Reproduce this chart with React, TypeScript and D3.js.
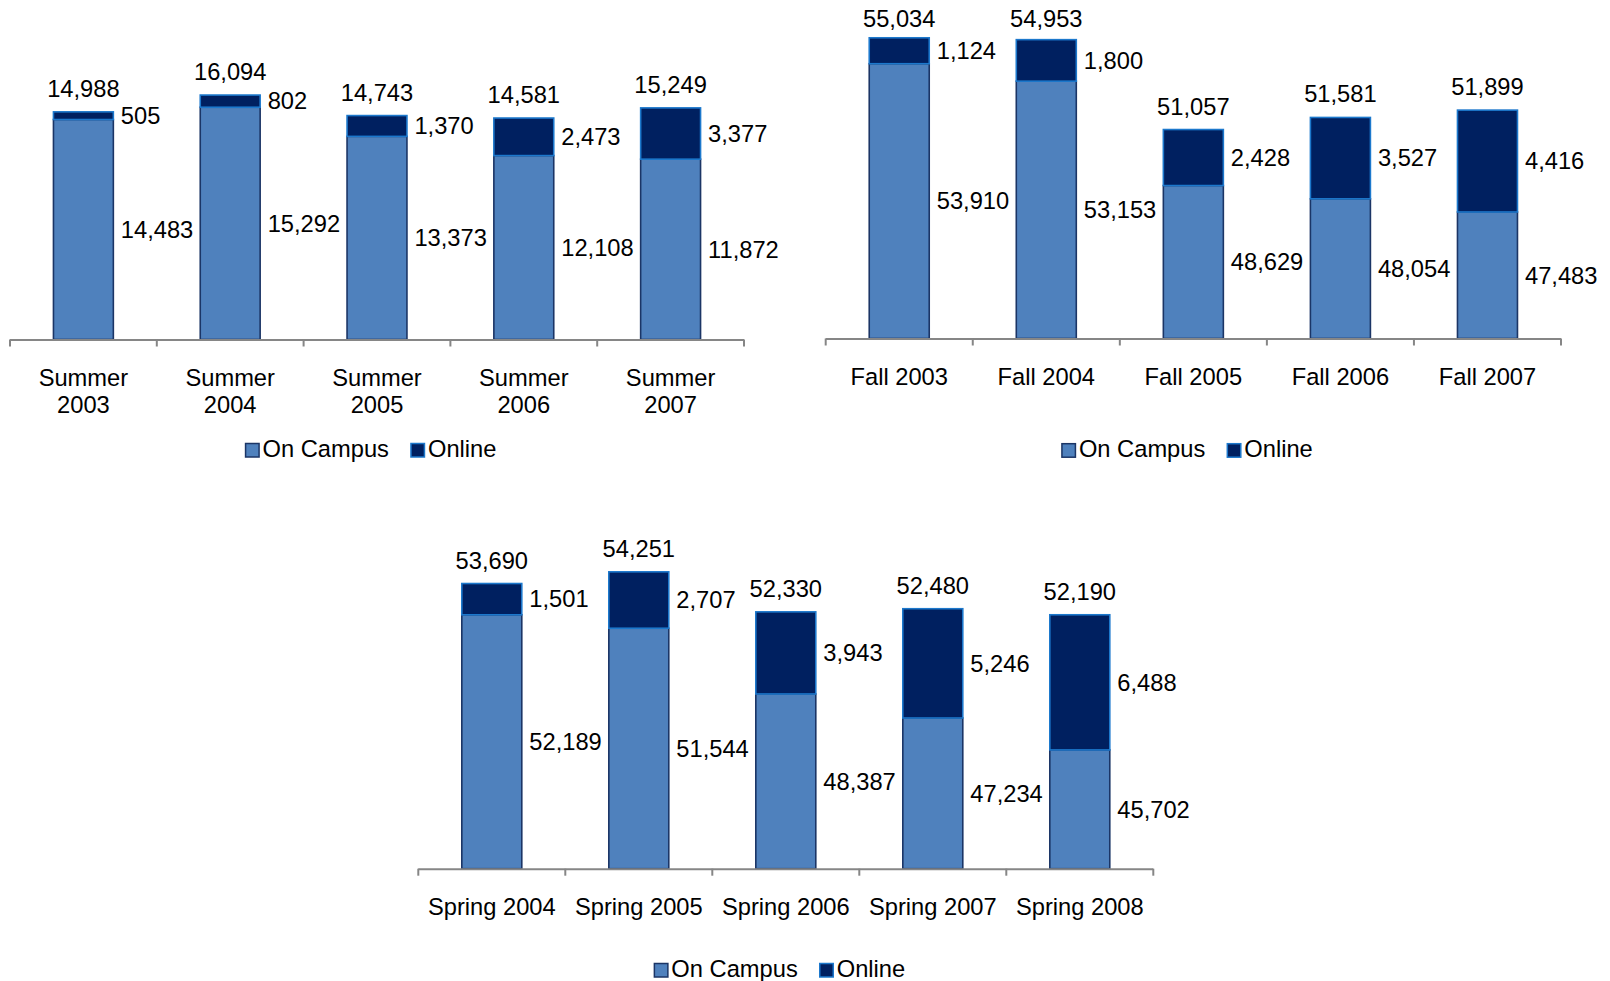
import React from "react";
import * as d3 from "d3";

// ---------- DATA ----------
const summerCategories = ["Summer 2003", "Summer 2004", "Summer 2005", "Summer 2006", "Summer 2007"];
const summerOnCampus = [14483, 15292, 13373, 12108, 11872];
const summerOnline = [505, 802, 1370, 2473, 3377];
const summerTotals = [14988, 16094, 14743, 14581, 15249];

const fallCategories = ["Fall 2003", "Fall 2004", "Fall 2005", "Fall 2006", "Fall 2007"];
const fallOnCampus = [53910, 53153, 48629, 48054, 47483];
const fallOnline = [1124, 1800, 2428, 3527, 4416];
const fallTotals = [55034, 54953, 51057, 51581, 51899];

const springCategories = ["Spring 2004", "Spring 2005", "Spring 2006", "Spring 2007", "Spring 2008"];
const springOnCampus = [52189, 51544, 48387, 47234, 45702];
const springOnline = [1501, 2707, 3943, 5246, 6488];
const springTotals = [53690, 54251, 52330, 52480, 52190];

const summerDomain = [0, 18000];
const fallDomain = [42000, 56000];
const springDomain = [40000, 56000];

const seriesNames = ["On Campus", "Online"];

// ---------- STYLE ----------
const FONT = "'Liberation Sans', Arial, sans-serif";
const FS = 23.7;
const campusFill = "#4F81BD";
const campusStroke = "#1B3566";
const onlineFill = "#002060";
const onlineStroke = "#1C78CC";
const axisColor = "#868686";

const fmt = d3.format(",");

function measure(text: string): number {
  if (typeof document === "undefined") return text.length * FS * 0.55;
  const c = document.createElement("canvas").getContext("2d");
  if (!c) return text.length * FS * 0.55;
  c.font = `${FS}px 'Liberation Sans', Arial, sans-serif`;
  return c.measureText(text).width;
}

type ChartProps = {
  categories: string[];
  onCampus: number[];
  online: number[];
  totals: number[];
  domain: number[];
  x0: number;
  x1: number;
  baseline: number;
  top: number;
  legendBaseline: number;
  wrap: boolean;
};

function StackedChart(p: ChartProps) {
  const x = d3.scaleBand<string>().domain(p.categories).range([p.x0, p.x1]).padding(0);
  const y = d3.scaleLinear().domain(p.domain).range([p.baseline, p.top]);
  const step = x.step();
  const bw = step * 0.408;
  const ticks = d3.range(p.categories.length + 1).map((i) => p.x0 + i * step);

  // legend layout
  const sq = 13.5;
  const w1 = measure(seriesNames[0]);
  const w2 = measure(seriesNames[1]);
  const totalW = sq + 3.5 + w1 + 22 + sq + 3.5 + w2;
  const lx = (p.x0 + p.x1) / 2 - 6 - totalW / 2;
  const lx2 = lx + sq + 3.5 + w1 + 22;

  return (
    <g>
      {p.categories.map((c, i) => {
        const cx = (x(c) as number) + step / 2;
        const left = cx - bw / 2;
        const yCampusTop = y(p.onCampus[i]);
        const yOnlineTop = y(p.onCampus[i] + p.online[i]);
        const yBase = y(p.domain[0]);
        const totalY = Math.max(y(p.totals[i]) - 15, p.top + 11);
        return (
          <g key={c}>
            <rect
              x={left}
              y={yCampusTop}
              width={bw}
              height={yBase - yCampusTop}
              fill={campusFill}
              stroke={campusStroke}
              strokeWidth={1.6}
            />
            <rect
              x={left}
              y={yOnlineTop}
              width={bw}
              height={yCampusTop - yOnlineTop}
              fill={onlineFill}
              stroke={onlineStroke}
              strokeWidth={1.6}
            />
            <text x={cx} y={totalY} textAnchor="middle">
              {fmt(p.totals[i])}
            </text>
            <text x={left + bw + 7.5} y={(yOnlineTop + yCampusTop) / 2} dy="0.35em">
              {fmt(p.online[i])}
            </text>
            <text x={left + bw + 7.5} y={(yCampusTop + yBase) / 2} dy="0.35em">
              {fmt(p.onCampus[i])}
            </text>
            {p.wrap ? (
              c.split(" ").map((part, k) => (
                <text key={k} x={cx} y={p.baseline + 46.5 + k * 26.7} textAnchor="middle">
                  {part}
                </text>
              ))
            ) : (
              <text x={cx} y={p.baseline + 46.5} textAnchor="middle">
                {c}
              </text>
            )}
          </g>
        );
      })}
      <line x1={p.x0} x2={p.x1} y1={p.baseline + 0.5} y2={p.baseline + 0.5} stroke={axisColor} strokeWidth={2} />
      {ticks.map((t, i) => (
        <line key={i} x1={t} x2={t} y1={p.baseline} y2={p.baseline + 7} stroke={axisColor} strokeWidth={2} />
      ))}
      <g>
        <rect x={lx} y={p.legendBaseline - 13} width={sq} height={sq} fill={campusFill} stroke={campusStroke} strokeWidth={1.5} />
        <text x={lx + sq + 3.5} y={p.legendBaseline}>{seriesNames[0]}</text>
        <rect x={lx2} y={p.legendBaseline - 13} width={sq} height={sq} fill={onlineFill} stroke={onlineStroke} strokeWidth={1.5} />
        <text x={lx2 + sq + 3.5} y={p.legendBaseline}>{seriesNames[1]}</text>
      </g>
    </g>
  );
}

export default function App() {
  return (
    <svg
      width={1610}
      height={981}
      style={{ position: "absolute", left: 0, top: 0, display: "block", background: "#fff" }}
      fontFamily={FONT}
      fontSize={FS}
      fill="#000"
    >
      <rect width={1610} height={981} fill="#fff" />
      <StackedChart
        categories={summerCategories}
        onCampus={summerOnCampus}
        online={summerOnline}
        totals={summerTotals}
        domain={summerDomain}
        x0={10}
        x1={744}
        baseline={339.5}
        top={66.1}
        legendBaseline={456.5}
        wrap={true}
      />
      <StackedChart
        categories={fallCategories}
        onCampus={fallOnCampus}
        online={fallOnline}
        totals={fallTotals}
        domain={fallDomain}
        x0={825.7}
        x1={1561}
        baseline={338.5}
        top={15.5}
        legendBaseline={456.7}
        wrap={false}
      />
      <StackedChart
        categories={springCategories}
        onCampus={springOnCampus}
        online={springOnline}
        totals={springTotals}
        domain={springDomain}
        x0={418.3}
        x1={1153.3}
        baseline={868.7}
        top={535.4}
        legendBaseline={976.5}
        wrap={false}
      />
    </svg>
  );
}
